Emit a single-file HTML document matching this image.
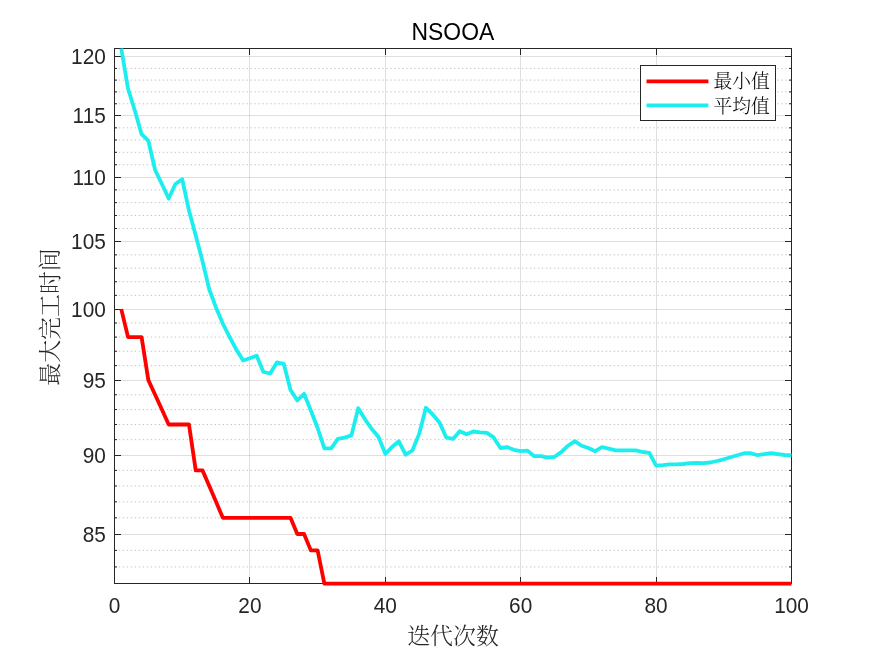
<!DOCTYPE html>
<html><head><meta charset="utf-8"><title>NSOOA</title>
<style>html,body{margin:0;padding:0;background:#fff;}body{width:875px;height:656px;overflow:hidden;}svg{display:block;}</style>
</head><body>
<svg width="875" height="656" viewBox="0 0 875 656">
<path d="M114.809 566.95H791 M114.809 550.38H791 M114.809 517.82H791 M114.809 501.83H791 M114.809 486.01H791 M114.809 470.38H791 M114.809 439.63H791 M114.809 424.5H791 M114.809 409.54H791 M114.809 394.75H791 M114.809 365.61H791 M114.809 351.27H791 M114.809 337.08H791 M114.809 323.03H791 M114.809 295.36H791 M114.809 281.73H791 M114.809 268.23H791 M114.809 254.86H791 M114.809 228.5H791 M114.809 215.51H791 M114.809 202.64H791 M114.809 189.88H791 M114.809 164.73H791 M114.809 152.32H791 M114.809 140.02H791 M114.809 127.82H791 M114.809 103.76H791 M114.809 91.88H791 M114.809 80.11H791 M114.809 68.43H791" stroke="#1a1a1a" stroke-opacity="0.25" stroke-width="1" stroke-dasharray="1.4 2.591" fill="none"/>
<path d="M115 534.5H791 M115 455.5H791 M115 380.5H791 M115 309.5H791 M115 241.5H791 M115 177.5H791 M115 115.5H791 M115 56.5H791" stroke="#262626" stroke-opacity="0.15" stroke-width="1" fill="none"/>
<path d="M249.5 49V583 M385.5 49V583 M520.5 49V583 M656.5 49V583" stroke="#262626" stroke-opacity="0.15" stroke-width="1" fill="none"/>
<path d="M114 566.95h3M792 566.95h-3 M114 550.38h3M792 550.38h-3 M114 534.5h7M792 534.5h-7 M114 517.82h3M792 517.82h-3 M114 501.83h3M792 501.83h-3 M114 486.01h3M792 486.01h-3 M114 470.38h3M792 470.38h-3 M114 455.5h7M792 455.5h-7 M114 439.63h3M792 439.63h-3 M114 424.5h3M792 424.5h-3 M114 409.54h3M792 409.54h-3 M114 394.75h3M792 394.75h-3 M114 380.5h7M792 380.5h-7 M114 365.61h3M792 365.61h-3 M114 351.27h3M792 351.27h-3 M114 337.08h3M792 337.08h-3 M114 323.03h3M792 323.03h-3 M114 309.5h7M792 309.5h-7 M114 295.36h3M792 295.36h-3 M114 281.73h3M792 281.73h-3 M114 268.23h3M792 268.23h-3 M114 254.86h3M792 254.86h-3 M114 241.5h7M792 241.5h-7 M114 228.5h3M792 228.5h-3 M114 215.51h3M792 215.51h-3 M114 202.64h3M792 202.64h-3 M114 189.88h3M792 189.88h-3 M114 177.5h7M792 177.5h-7 M114 164.73h3M792 164.73h-3 M114 152.32h3M792 152.32h-3 M114 140.02h3M792 140.02h-3 M114 127.82h3M792 127.82h-3 M114 115.5h7M792 115.5h-7 M114 103.76h3M792 103.76h-3 M114 91.88h3M792 91.88h-3 M114 80.11h3M792 80.11h-3 M114 68.43h3M792 68.43h-3 M114 56.5h7M792 56.5h-7 M114.5 584v-7M114.5 48v7 M249.5 584v-7M249.5 48v7 M385.5 584v-7M385.5 48v7 M520.5 584v-7M520.5 48v7 M656.5 584v-7M656.5 48v7 M791.5 584v-7M791.5 48v7" stroke="#262626" stroke-width="1" fill="none"/>
<rect x="114.5" y="48.5" width="677" height="535" fill="none" stroke="#262626" stroke-width="1"/>
<g fill="none" stroke-width="3.8" stroke-linejoin="round" stroke-linecap="butt">
<polyline points="121.27,309.13 128.04,337.08 134.81,337.08 141.58,337.08 148.35,380.1 155.12,394.75 161.89,409.54 168.66,424.5 175.43,424.5 182.2,424.5 188.97,424.5 195.74,470.38 202.51,470.38 209.28,486.01 216.05,501.83 222.82,517.82 229.59,517.82 236.36,517.82 243.13,517.82 249.9,517.82 256.67,517.82 263.44,517.82 270.21,517.82 276.98,517.82 283.75,517.82 290.52,517.82 297.29,534.01 304.06,534.01 310.83,550.38 317.6,550.38 324.37,583.72 331.14,583.72 337.91,583.72 344.68,583.72 351.45,583.72 358.22,583.72 364.99,583.72 371.76,583.72 378.53,583.72 385.3,583.72 392.07,583.72 398.84,583.72 405.61,583.72 412.38,583.72 419.15,583.72 425.92,583.72 432.69,583.72 439.46,583.72 446.23,583.72 453,583.72 459.77,583.72 466.54,583.72 473.31,583.72 480.08,583.72 486.85,583.72 493.62,583.72 500.39,583.72 507.16,583.72 513.93,583.72 520.7,583.72 527.47,583.72 534.24,583.72 541.01,583.72 547.78,583.72 554.55,583.72 561.32,583.72 568.09,583.72 574.86,583.72 581.63,583.72 588.4,583.72 595.17,583.72 601.94,583.72 608.71,583.72 615.48,583.72 622.25,583.72 629.02,583.72 635.79,583.72 642.56,583.72 649.33,583.72 656.1,583.72 662.87,583.72 669.64,583.72 676.41,583.72 683.18,583.72 689.95,583.72 696.72,583.72 703.49,583.72 710.26,583.72 717.03,583.72 723.8,583.72 730.57,583.72 737.34,583.72 744.11,583.72 750.88,583.72 757.65,583.72 764.42,583.72 771.19,583.72 777.96,583.72 784.73,583.72 791.5,583.72" stroke="#ff0000"/>
<polyline points="121.27,48.5 128.04,88.8 134.81,110.5 141.58,134.2 148.35,140.8 155.12,170 161.89,184 168.66,198.5 175.43,184 182.2,179.2 188.97,210.5 195.74,235.5 202.51,261.3 209.28,289.5 216.05,307.7 222.82,323.6 229.59,337 236.36,349.6 243.13,360.5 249.9,358.3 256.67,355.7 263.44,372 270.21,373.5 276.98,362.3 283.75,363.8 290.52,390 297.29,400.4 304.06,393.8 310.83,410.5 317.6,428 324.37,448.3 331.14,448.3 337.91,438.8 344.68,437.6 351.45,435.4 358.22,408.3 364.99,419.3 371.76,429 378.53,437 385.3,453.8 392.07,447 398.84,441.3 405.61,454.7 412.38,450.5 419.15,433.9 425.92,407.8 432.69,414.4 439.46,422.4 446.23,437.5 453,438.9 459.77,431.2 466.54,434.3 473.31,431.5 480.08,432.3 486.85,432.9 493.62,437.4 500.39,448 507.16,447.1 513.93,449.8 520.7,451.1 527.47,450.6 534.24,456.2 541.01,456.2 547.78,457.6 554.55,456.9 561.32,452 568.09,445.7 574.86,441.1 581.63,445.7 588.4,448 595.17,451.2 601.94,447.2 608.71,448.6 615.48,450.3 622.25,450.3 629.02,450.3 635.79,450.3 642.56,452 649.33,452.8 656.1,465.7 662.87,465.1 669.64,464.3 676.41,464.3 683.18,464 689.95,463.2 696.72,462.9 703.49,463.2 710.26,462.5 717.03,461 723.8,459.3 730.57,457.2 737.34,455.2 744.11,453.2 750.88,453.2 757.65,455.2 764.42,454.1 771.19,453.2 777.96,454.1 784.73,455 791.5,455.3" stroke="#1ceef0"/>
</g>
<g font-family="'Liberation Sans', Arial, sans-serif" font-size="20.83" fill="#262626"><text transform="translate(114.5,613) scale(1,1.06)" text-anchor="middle">0</text><text transform="translate(249.9,613) scale(1,1.06)" text-anchor="middle">20</text><text transform="translate(385.3,613) scale(1,1.06)" text-anchor="middle">40</text><text transform="translate(520.7,613) scale(1,1.06)" text-anchor="middle">60</text><text transform="translate(656.1,613) scale(1,1.06)" text-anchor="middle">80</text><text transform="translate(791.5,613) scale(1,1.06)" text-anchor="middle">100</text><text transform="translate(105.8,542) scale(1,1.06)" text-anchor="end">85</text><text transform="translate(105.8,463) scale(1,1.06)" text-anchor="end">90</text><text transform="translate(105.8,388) scale(1,1.06)" text-anchor="end">95</text><text transform="translate(105.8,317) scale(1,1.06)" text-anchor="end">100</text><text transform="translate(105.8,249) scale(1,1.06)" text-anchor="end">105</text><text transform="translate(105.8,185) scale(1,1.06)" text-anchor="end">110</text><text transform="translate(105.8,123) scale(1,1.06)" text-anchor="end">115</text><text transform="translate(105.8,64) scale(1,1.06)" text-anchor="end">120</text></g>
<text transform="translate(452.9,39.6) scale(1,1.035)" text-anchor="middle" font-family="'Liberation Sans', Arial, sans-serif" font-size="22.9" fill="#000">NSOOA</text>
<text x="453" y="644" text-anchor="middle" font-family="'Liberation Serif', 'Noto Serif CJK SC', serif" font-weight="300" font-size="22.9" fill="#262626">迭代次数</text>
<text transform="translate(58,317) rotate(-90)" text-anchor="middle" font-family="'Liberation Serif', 'Noto Serif CJK SC', serif" font-weight="300" font-size="22.9" fill="#262626">最大完工时间</text>
<rect x="640.5" y="65.5" width="135" height="55" fill="#fff" stroke="#262626" stroke-width="1"/>
<path d="M646.5 81.4H708.4" stroke="#ff0000" stroke-width="3.8"/>
<path d="M646.5 105.3H708.4" stroke="#1ceef0" stroke-width="3.8"/>
<g font-family="'Liberation Serif', 'Noto Serif CJK SC', serif" font-weight="300" font-size="18.75" fill="#000"><text x="713.5" y="88.4">最小值</text><text x="713.5" y="113.4">平均值</text></g>
</svg>
</body></html>
